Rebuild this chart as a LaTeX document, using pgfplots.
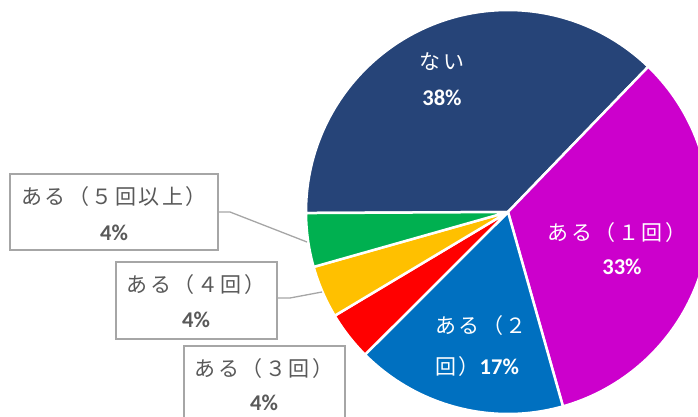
\documentclass[border=0pt]{standalone}
\usepackage{fontspec}
\setmainfont{Noto Sans CJK JP}
\newfontfamily\pctfont{Carlito}
\usepackage{pgfplots}
\pgfplotsset{compat=1.18}
\definecolor{cNai}{HTML}{264478}
\definecolor{cOne}{HTML}{CC00CC}
\definecolor{cTwo}{HTML}{0070C0}
\definecolor{cThree}{HTML}{FF0000}
\definecolor{cFour}{HTML}{FFC000}
\definecolor{cFive}{HTML}{00B050}
\definecolor{txt}{HTML}{595959}
\definecolor{bord}{HTML}{A6A6A6}
% shares (percent): nai, 1, 2, 3, 4, 5+
\def\vNai{37.3}\def\vOne{33.4}\def\vTwo{16.9}\def\vThree{3.9}\def\vFour{4.2}\def\vFive{4.3}
\pgfmathsetmacro\aA{180.3}
\pgfmathsetmacro\aB{\aA-\vNai*3.6}
\pgfmathsetmacro\aC{\aB-\vOne*3.6}
\pgfmathsetmacro\aD{\aC-\vTwo*3.6}
\pgfmathsetmacro\aE{\aD-\vThree*3.6}
\pgfmathsetmacro\aF{\aE-\vFour*3.6}
\pgfmathsetmacro\aG{\aF-\vFive*3.6}
\newcommand\jp{\fontsize{21}{25}\selectfont\addfontfeature{LetterSpace=12}}
\newcommand\pc{\fontsize{22.5}{26}\selectfont\pctfont\bfseries}
\newcommand\wedgeat[3]{\fill[#3, draw=white, line width=2.5pt, line join=round] (axis cs:508,204) -- ++(#1:202pt) arc[start angle=#1, end angle=#2, radius=202pt] -- cycle;}
\begin{document}
\begin{tikzpicture}
\begin{axis}[
  scale only axis, width=698pt, height=416pt,
  xmin=0, xmax=698, ymin=0, ymax=416,
  hide axis, clip=true]
\coordinate (SW) at (rel axis cs:0,0);
\coordinate (NE) at (rel axis cs:1,1);
\wedgeat{\aA}{\aB}{cNai}
\wedgeat{\aB}{\aC}{cOne}
\wedgeat{\aC}{\aD}{cTwo}
\wedgeat{\aD}{\aE}{cThree}
\wedgeat{\aE}{\aF}{cFour}
\wedgeat{\aF}{\aG}{cFive}
% inside labels
\node[text=white, inner sep=0pt] at (axis cs:442,354) {\jp ない};
\node[text=white, inner sep=0pt] at (axis cs:442,318) {\pc 38\%};
\node[text=white, inner sep=0pt] at (axis cs:617,183) {\jp ある（１回）};
\node[text=white, inner sep=0pt] at (axis cs:622,149) {\pc 33\%};
\node[text=white, inner sep=0pt, anchor=west] at (axis cs:435,90) {\jp ある（２};
\node[text=white, inner sep=0pt, anchor=west] at (axis cs:435,49) {\jp 回）\pc 17\%};
% leader lines
\draw[bord, line width=1.3pt] (axis cs:218,204) -- (axis cs:230,204) -- (axis cs:307,174);
\draw[bord, line width=1.3pt] (axis cs:277,118) -- (axis cs:290,118) -- (axis cs:322,124);
% boxes
\draw[bord, line width=1.3pt, fill=white] (axis cs:10,242) rectangle (axis cs:218,166);
\draw[bord, line width=1.3pt, fill=white] (axis cs:116,154) rectangle (axis cs:277,77);
\draw[bord, line width=1.3pt, fill=white] (axis cs:184,70) rectangle (axis cs:345,-10);
\node[text=txt, inner sep=0pt] at (axis cs:114,219) {\jp ある（５回以上）};
\node[text=txt, inner sep=0pt] at (axis cs:114,183) {\pc 4\%};
\node[text=txt, inner sep=0pt] at (axis cs:196,131) {\jp ある（４回）};
\node[text=txt, inner sep=0pt] at (axis cs:196,96) {\pc 4\%};
\node[text=txt, inner sep=0pt] at (axis cs:264,47) {\jp ある（３回）};
\node[text=txt, inner sep=0pt] at (axis cs:264,13.5) {\pc 4\%};
\end{axis}
\pgfresetboundingbox
\path (SW) rectangle (NE);
\end{tikzpicture}
\end{document}
